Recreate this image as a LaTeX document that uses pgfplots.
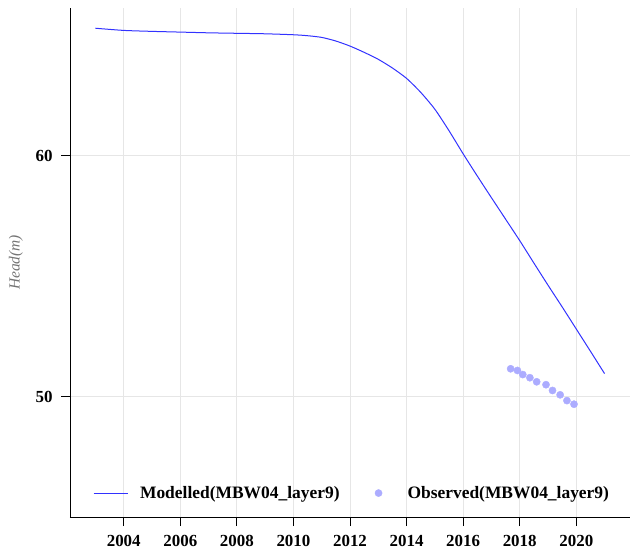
\documentclass[border=0pt]{standalone}
\usepackage{pgfplots}
\pgfplotsset{compat=1.18}
\usepackage{fontspec}
\setmainfont{Liberation Serif}
\definecolor{modline}{RGB}{50,50,255}
\definecolor{obsfill}{RGB}{172,172,255}
\definecolor{gridc}{RGB}{230,230,230}
\begin{document}
\begin{tikzpicture}
\begin{axis}[
  name=ax,
  scale only axis,
  width=560bp, height=509bp,
  xmin=2002.1, xmax=2021.9,
  ymin=45, ymax=66.12,
  axis x line*=bottom, axis y line*=left,
  axis line style={black, line width=0.9bp, -},
  tick align=outside,
  major tick length=9bp,
  tick style={black, line width=0.9bp},
  xtick={2004,2006,...,2020},
  ytick={50,60},
  grid=major,
  major grid style={gridc, line width=0.8bp},
  /pgf/number format/assume math mode=true,
  /pgf/number format/1000 sep={},
  xticklabel style={font=\fontsize{17}{20}\selectfont\bfseries, yshift=-6bp},
  yticklabel style={font=\fontsize{17}{20}\selectfont\bfseries, xshift=-5bp},
  ylabel={Head(m)},
  every axis y label/.style={at={(axis description cs:-0.0964,0.5)}, rotate=90, anchor=center,
    font=\fontsize{15.5}{18}\selectfont\itshape, color=black!55},
  legend columns=2,
  legend style={at={(axis description cs:0.5036,0.047)}, anchor=center, draw=none, fill=none,
    font=\fontsize{17.5}{20}\selectfont\bfseries,
    /tikz/every odd column/.append style={column sep=10bp},
    /tikz/every even column/.append style={column sep=20bp}},
  clip=false,
]
\addplot[modline, line width=1bp, smooth, tension=0.4,
  legend image code/.code={\draw[modline, line width=1bp] (0bp,0bp) -- (34bp,0bp);}]
  coordinates {
  (2003,65.28) (2004,65.19) (2005,65.15) (2006,65.12) (2007,65.09) (2008,65.07)
  (2009,65.05) (2010,65.01) (2010.5,64.97) (2011,64.90) (2011.5,64.75) (2012,64.54)
  (2012.5,64.28) (2013,63.99) (2013.5,63.63) (2014,63.20) (2014.5,62.62)
  (2015,61.92) (2015.5,61.03) (2016,60.07) (2016.5,59.15) (2017,58.25)
  (2017.5,57.36) (2018,56.47) (2018.5,55.54) (2019,54.62) (2019.5,53.72)
  (2020,52.80) (2020.5,51.88) (2021,50.95)
  };
\addlegendentry{Modelled(MBW04\_layer9)}
\addplot[obsfill, only marks, mark=*, mark size=3.6bp, mark options={fill=obsfill, draw=none},
  legend image code/.code={\path[draw=none, fill=none] (0bp,0bp) rectangle (34bp,0.1bp); \fill[obsfill] (17bp,0bp) circle[radius=3.6bp];}]
  coordinates {
  (2017.68,51.15) (2017.92,51.08) (2018.11,50.91) (2018.36,50.78) (2018.60,50.61)
  (2018.93,50.49) (2019.16,50.25) (2019.43,50.07) (2019.67,49.83) (2019.92,49.68)
  };
\addlegendentry{Observed(MBW04\_layer9)}
\end{axis}
\pgfresetboundingbox
\path ([shift={(-70bp,-36bp)}]ax.south west) rectangle ([shift={(0bp,8bp)}]ax.north east);
\end{tikzpicture}
\end{document}
